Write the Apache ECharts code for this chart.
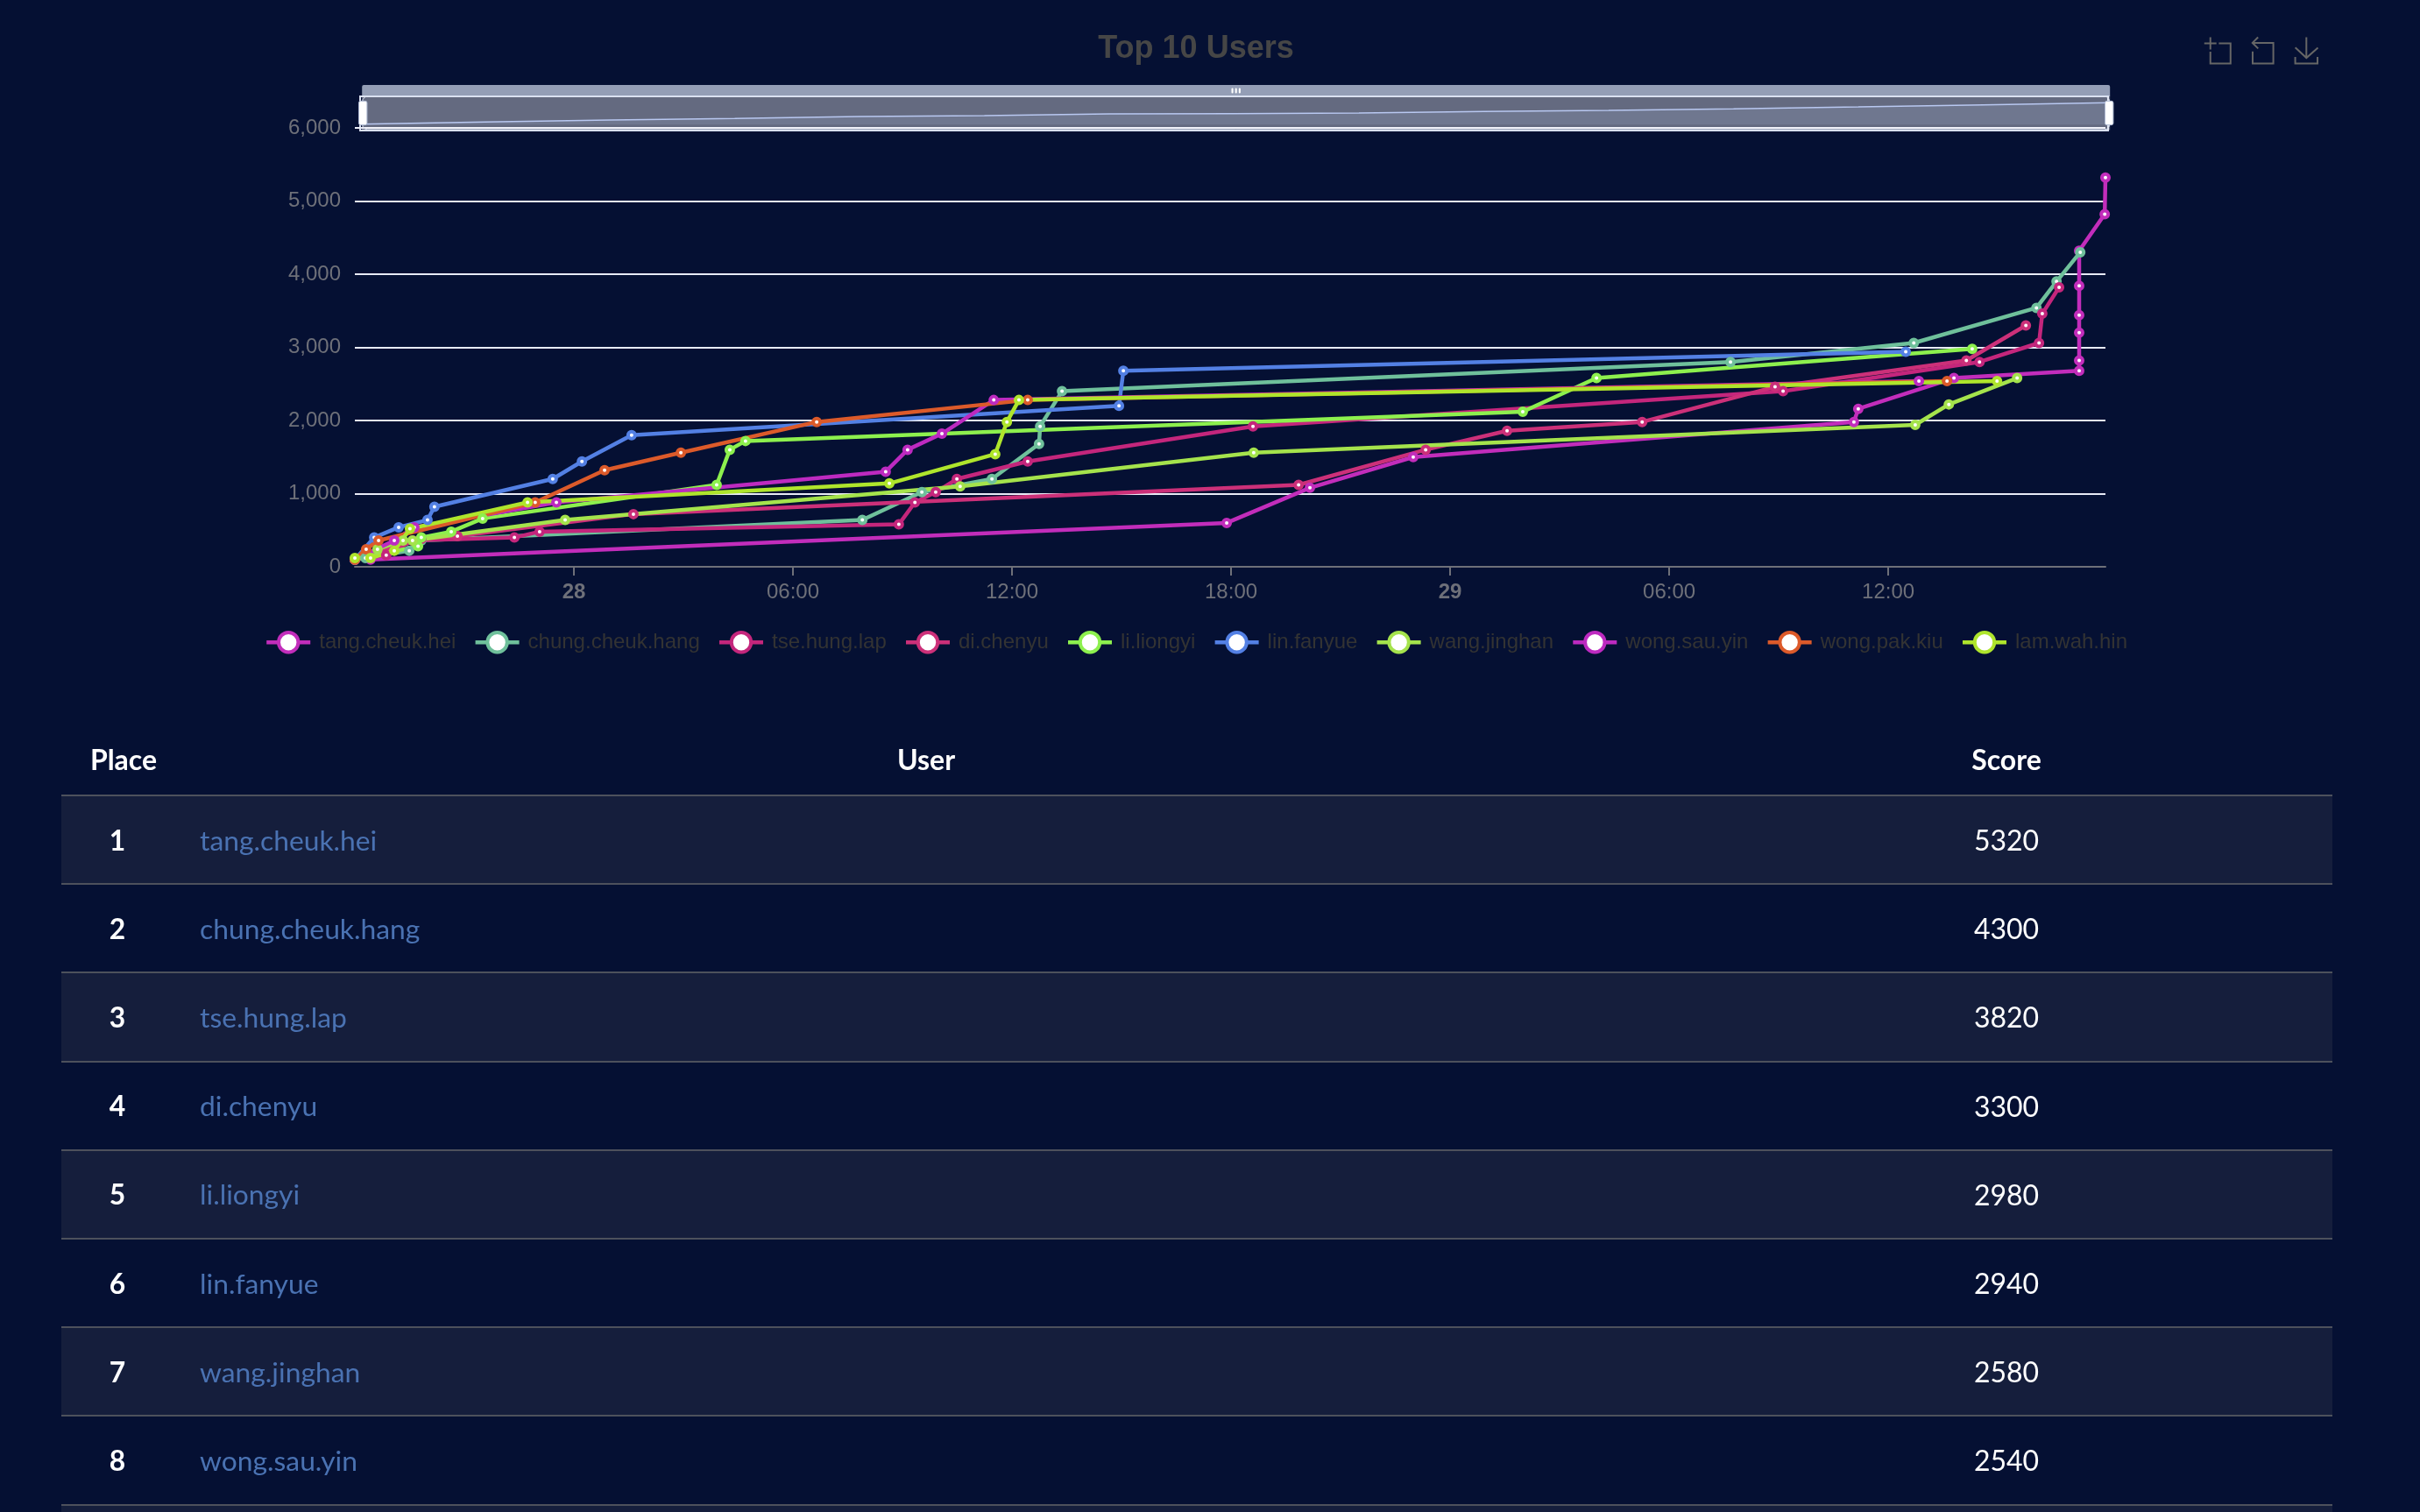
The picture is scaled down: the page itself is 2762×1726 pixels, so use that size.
<!DOCTYPE html>
<html><head><meta charset="utf-8">
<script src="https://cdn.jsdelivr.net/npm/echarts@6/dist/echarts.min.js"></script>
<style>
html,body{margin:0;padding:0;background:#051033;width:2762px;height:1726px;overflow:hidden;font-family:Lato,sans-serif}
#chart{position:absolute;left:0;top:0;width:2730px;height:830px}
#board{position:absolute;left:70px;top:818px;width:2592px;border-collapse:collapse;table-layout:fixed}
#board col.c1{width:146px}#board col.c2{width:1682px}#board col.c3{width:764px}
#board th{height:81px;padding:8px 0 0 0;font-size:32px;font-weight:700;color:#fff;text-align:center;border-bottom:2px solid #4d515c}
#board th.hp{padding-right:4px}
#board td{height:99.2px;font-size:31.8px;color:#fff;padding:0;border-bottom:2px solid #4d515c}
#board tr.odd td{background:#151e3c}
#board td.p{text-align:center;padding-right:18px;font-weight:700}
#board td.u{padding-left:12px;color:#4a72b2}
#board td.s{text-align:center;padding-left:20px;font-size:32px}
#board th.hs{padding-left:20px}
</style></head><body>
<div id="chart"></div>
<table id="board"><colgroup><col class="c1"><col class="c2"><col class="c3"></colgroup><thead><tr><th class="hp">Place</th><th>User</th><th class="hs">Score</th></tr></thead><tbody id="rows"></tbody></table>
<script>
// Hours are measured from 00:00 on the 28th.
const userNames = ['tang.cheuk.hei','chung.cheuk.hang','tse.hung.lap','di.chenyu','li.liongyi','lin.fanyue','wang.jinghan','wong.sau.yin','wong.pak.kiu','lam.wah.hin'];
const finalScores = [5320,4300,3820,3300,2980,2940,2580,2540,2540,2540];
const lineColors = ['#c22dbb','#6fc09b','#c4267c','#cc3079','#8df04e','#5380e4','#a5e34c','#bd2ac0','#dc5a2a','#afe52c'];
const tickHours = [0,6,12,18,24,30,36];

const tangHours = [-5.57,17.88,20.16,22.99,35.06,35.18,37.80,41.23,41.23,41.23,41.23,41.23,41.23,41.93,41.95];
const tangScores = [100,600,1080,1500,1980,2160,2580,2680,2820,3200,3440,3840,4320,4820,5320];
const chungHours = [-6.00,-5.71,-4.51,-4.18,7.90,9.53,11.45,12.74,12.77,13.37,31.68,36.70,40.06,40.61,41.26];
const chungScores = [100,120,220,360,640,1020,1200,1680,1920,2400,2800,3060,3540,3900,4300];
const tseHours = [-6.00,-5.14,-4.42,-1.63,-0.94,8.90,9.34,9.91,10.49,12.43,18.60,33.12,38.50,40.13,40.22,40.68];
const tseScores = [100,160,360,400,480,580,880,1020,1200,1440,1920,2400,2800,3060,3460,3820];
const diHours = [-6.00,-4.18,-3.19,1.63,19.85,23.33,25.56,29.26,32.90,38.14,39.77];
const diScores = [100,380,420,720,1120,1600,1860,1980,2460,2820,3300];
const liHours = [-6.00,-4.27,-4.18,-3.36,-2.50,3.91,4.27,4.70,25.99,28.01,38.30];
const liScores = [100,280,400,480,660,1120,1600,1720,2120,2580,2980];
const linHours = [-6.00,-5.47,-4.80,-4.01,-3.82,-0.58,0.22,1.58,14.93,15.05,36.48];
const linScores = [100,400,540,640,820,1200,1440,1800,2200,2680,2940];
const wangHours = [-6.00,-5.38,-4.68,-4.42,-0.24,10.58,18.62,36.74,37.66,39.53];
const wangScores = [100,240,360,360,640,1100,1560,1940,2220,2580];
const sauHours = [-6.00,-4.92,-4.37,-0.48,8.54,9.14,10.08,11.50,36.84];
const sauScores = [100,360,540,880,1300,1600,1820,2280,2540];
const pakHours = [-6.00,-5.69,-5.35,-1.06,0.84,2.93,6.65,12.43,37.61];
const pakScores = [100,240,360,880,1320,1560,1980,2280,2540];
const lamHours = [-6.00,-5.57,-4.92,-4.49,-1.27,8.64,11.54,11.86,12.19,38.98];
const lamScores = [120,120,220,520,880,1140,1540,1980,2280,2540];

const allHours = [tangHours,chungHours,tseHours,diHours,liHours,linHours,wangHours,sauHours,pakHours,lamHours];
const allScores = [tangScores,chungScores,tseScores,diScores,liScores,linScores,wangScores,sauScores,pakScores,lamScores];
const day28 = new Date(2024,4,28,0,0,0).getTime();
const toTime = h => day28 + h*3600000;
const tickTimes = tickHours.map(toTime);
const pad = n => String(n).padStart(2,'0');

const chart = echarts.init(document.getElementById('chart'), null, {renderer:'canvas'});
const font = '"Liberation Sans"';
const lineSeries = userNames.map((name,i)=>({
  name,type:'line',symbol:'circle',symbolSize:8,showAllSymbol:true,
  lineStyle:{color:lineColors[i],width:4.5},
  itemStyle:{color:'#fff',borderColor:lineColors[i],borderWidth:4},
  data:allHours[i].map((h,k)=>[toTime(h),allScores[i][k]])
}));
// Slider preview: the leader's scores, evenly spaced by index.
const sliderPreview = {name:'preview',type:'line',xAxisIndex:1,yAxisIndex:1,symbol:'none',silent:true,
  lineStyle:{color:'#8ea6e8',width:1.5},areaStyle:{color:'#8fa4e0',opacity:0.14},data:tangScores};
chart.setOption({
  animation:false,
  backgroundColor:'transparent',
  textStyle:{fontFamily:font},
  title:{text:'Top 10 Users',left:'center',top:33,textStyle:{fontSize:36,fontWeight:'bold',color:'#464646',fontFamily:font}},
  toolbox:{right:67,top:25,itemSize:30,itemGap:20,iconStyle:{borderColor:'#666',borderWidth:2},
    feature:{dataZoom:{xAxisIndex:[0],yAxisIndex:'none'},saveAsImage:{}}},
  legend:{data:userNames,top:715,left:'center',itemWidth:50,itemHeight:28,itemGap:20,
    itemStyle:{borderWidth:4},lineStyle:{width:4.5},
    textStyle:{fontSize:24,color:'#333',fontFamily:font,padding:[0,0,0,5]}},
  grid:[{left:405,right:327,top:146,height:501},
        {left:411,width:1995,top:110,height:39,show:true,backgroundColor:'transparent',borderColor:'#d8dff0',borderWidth:2}],
  xAxis:[{type:'time',min:'dataMin',max:'dataMax',
    axisLine:{lineStyle:{color:'#6E7079',width:2}},
    axisTick:{length:10,lineStyle:{width:2},customValues:tickTimes},
    splitLine:{show:false},
    axisLabel:{fontSize:24,margin:17,color:'#6E7079',fontFamily:font,
      formatter:v=>{const d=new Date(v);
        if(!tickTimes.includes(v)) return '';
        return d.getHours()===0?'{day|'+d.getDate()+'}':pad(d.getHours())+':'+pad(d.getMinutes());},
      rich:{day:{fontSize:24,fontWeight:'bold',color:'#6E7079',fontFamily:font}}}},
    {type:'category',gridIndex:1,show:false,boundaryGap:false,data:tangScores.map((_,k)=>k)}],
  yAxis:[{type:'value',min:0,max:6000,interval:1000,axisLine:{show:false},axisTick:{show:false},
    splitLine:{lineStyle:{color:'#e8ebf6',width:2}},axisLabel:{fontSize:24,margin:16,color:'#6E7079',fontFamily:font}},
    {type:'value',gridIndex:1,show:false,min:-1466,max:6886}],
  dataZoom:[{type:'slider',xAxisIndex:0,start:0,end:100,left:408,right:327,top:97,height:39,
    backgroundColor:'transparent',fillerColor:'rgba(255,255,255,0.38)',borderColor:'#d8dff0',borderRadius:6,
    moveHandleSize:13,moveHandleStyle:{color:'#D2DBEE',opacity:0.7},handleSize:'70%',showDetail:false,showDataShadow:false,
    handleIcon:'path://M2,0 h5 a2,2 0 0 1 2,2 v22 a2,2 0 0 1 -2,2 h-5 a2,2 0 0 1 -2,-2 v-22 a2,2 0 0 1 2,-2 z',
    handleStyle:{color:'#fff',borderColor:'#ACB8D1'}}],
  series:lineSeries.concat([sliderPreview])
});
const rows = document.getElementById('rows');
userNames.forEach((n,i)=>{
  const tr=document.createElement('tr'); if(i%2===0) tr.className='odd';
  tr.innerHTML='<td class="p">'+(i+1)+'</td><td class="u">'+n+'</td><td class="s">'+finalScores[i]+'</td>';
  rows.appendChild(tr);
});
</script></body></html>
